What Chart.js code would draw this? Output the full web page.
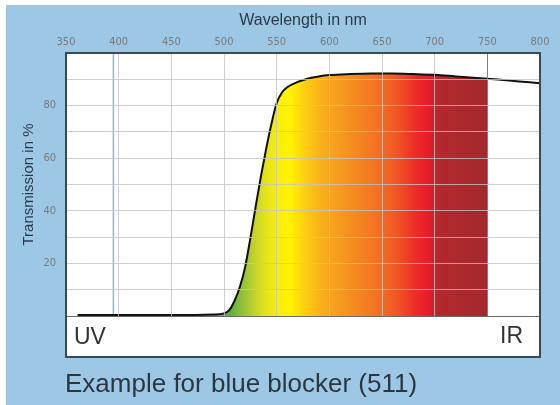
<!DOCTYPE html>
<html>
<head>
<meta charset="utf-8">
<script src="https://cdn.jsdelivr.net/npm/chart.js@4.4.1/dist/chart.umd.min.js"></script>
<style>
  html, body { margin: 0; padding: 0; background: #fff; }
  #wrap { position: relative; width: 560px; height: 405px; overflow: hidden; font-family: "Liberation Sans", Arial, sans-serif; }
  #panel { position: absolute; left: 6px; top: 5px; right: 0; bottom: 0; background: #9cc8e6; }
  #chart { position: absolute; left: 0; top: 0; }
  #band { position: absolute; left: 66px; top: 316px; width: 474px; height: 41px; background: #fff; border-top: 1px solid #6a6a6a; box-sizing: border-box; }
  #frame { position: absolute; left: 65px; top: 52px; width: 476px; height: 306px; border: 2px solid #3c4857; box-sizing: border-box; }
  .lbl { position: absolute; font-size: 23px; line-height: 23px; color: #333; }
  #uv { left: 74px; top: 325px; }
  #ir { right: 37px; top: 324px; }
  #caption { position: absolute; left: 65px; top: 370px; font-size: 26px; line-height: 26px; color: #2c3640; white-space: nowrap; }
</style>
</head>
<body>
<div id="wrap">
  <div id="panel"></div>
  <canvas id="chart" width="560" height="405"></canvas>
  <div id="band"></div>
  <div id="frame"></div>
  <div class="lbl" id="uv">UV</div>
  <div class="lbl" id="ir">IR</div>
  <div id="caption">Example for blue blocker (511)</div>
</div>
<script>
// transmission curve
const wavelengths = [361, 400, 450, 490, 500, 505, 510, 515, 520, 525, 530, 535, 540, 545, 550, 555, 560, 570, 580, 590, 600, 620, 640, 660, 680, 700, 720, 740, 760, 780, 800];
const transmission = [0.4, 0.4, 0.4, 0.6, 1.0, 2.2, 5.8, 11, 18.5, 29.5, 41.5, 53, 63.5, 73, 81, 85, 87, 89, 90.3, 91.1, 91.6, 92, 92.2, 92.2, 92, 91.7, 91.1, 90.5, 89.9, 89.2, 88.5];

const uvMarker = 395;   // blue line
const irMarker = 750;   // red line, end of the coloured band
const xTicks = [350, 400, 450, 500, 550, 600, 650, 700, 750, 800];
const yLabelled = [20, 40, 60, 80];

// spectrum colours along the wavelength axis
const spectrumStops = [
  [505, "#5aae3e"], [515, "#86be3c"], [525, "#b2cc34"], [537, "#dee020"],
  [550, "#f8ee0c"], [563, "#fff200"], [578, "#fccc12"], [595, "#f9ac1c"],
  [615, "#f6941f"], [640, "#f47822"], [662, "#f15a25"], [682, "#ec2c26"],
  [694, "#e81c2a"], [703, "#b3292e"], [750, "#a4282d"]
];

const points = wavelengths.map((w, i) => ({ x: w, y: transmission[i] }));

function spectrumFill(context) {
  const chart = context.chart;
  const { ctx, chartArea, scales } = chart;
  if (!chartArea) return null;
  const x0 = scales.x.getPixelForValue(350);
  const x1 = scales.x.getPixelForValue(800);
  const g = ctx.createLinearGradient(x0, 0, x1, 0);
  const f = w => (w - 350) / 450;
  spectrumStops.forEach(([w, c]) => g.addColorStop(f(w), c));
  g.addColorStop(f(irMarker) + 0.0005, "rgba(255,255,255,0)");
  g.addColorStop(1, "rgba(255,255,255,0)");
  return g;
}

const plotBackground = {
  id: "plotBackground",
  beforeDraw(chart) {
    const { ctx, chartArea: a } = chart;
    ctx.save();
    ctx.fillStyle = "#fff";
    ctx.fillRect(a.left, a.top, a.right - a.left, a.bottom - a.top);
    ctx.restore();
  }
};

const gridGrey = "rgba(196,196,196,0.8)";
const tickFont = { family: "'Liberation Sans Narrow', 'DejaVu Sans Condensed', sans-serif", size: 11 };

new Chart(document.getElementById("chart"), {
  type: "line",
  data: {
    datasets: [
      {
        label: "Transmission",
        data: points,
        borderColor: "#111",
        borderWidth: 2,
        pointRadius: 0,
        cubicInterpolationMode: "monotone",
        fill: "origin",
        backgroundColor: spectrumFill
      },
      {
        label: "UV",
        data: [{ x: uvMarker, y: 0 }, { x: uvMarker, y: 100 }],
        borderColor: "#8fb4e0",
        borderWidth: 1.5,
        pointRadius: 0,
        fill: false
      }
    ]
  },
  options: {
    responsive: false,
    animation: false,
    layout: { padding: { left: 0, top: 0, right: 20, bottom: 89 } },
    plugins: { legend: { display: false }, tooltip: { enabled: false } },
    scales: {
      x: {
        type: "linear",
        position: "top",
        min: 350,
        max: 800,
        afterBuildTicks: s => { s.ticks = xTicks.map(v => ({ value: v })); },
        afterFit: s => { s.height = 53; },
        border: { display: false },
        grid: {
          z: 1,
          drawTicks: false,
          lineWidth: 1,
          color: c => (c.tick && c.tick.value === irMarker ? "#e8505a" : gridGrey)
        },
        ticks: { padding: 4, color: "#7a7a7a", font: tickFont, maxRotation: 0 },
        title: {
          display: true,
          text: "Wavelength in nm",
          color: "#2c3a48",
          font: { family: "'Liberation Sans', Arial, sans-serif", size: 16 },
          padding: { top: 11, bottom: 0 }
        }
      },
      y: {
        min: 0,
        max: 100,
        afterFit: s => { s.width = 66; },
        border: { display: false },
        grid: { z: 1, drawTicks: false, color: gridGrey },
        ticks: {
          stepSize: 10,
          padding: 10,
          color: "#7a7a7a",
          font: tickFont,
          callback: v => (yLabelled.includes(v) ? v : "")
        },
        title: {
          display: true,
          text: "Transmission in %",
          color: "#2c3a48",
          font: { family: "'Liberation Sans', Arial, sans-serif", size: 15 },
          padding: { top: 20, bottom: 0 }
        }
      }
    }
  },
  plugins: [plotBackground]
});
</script>
</body>
</html>
